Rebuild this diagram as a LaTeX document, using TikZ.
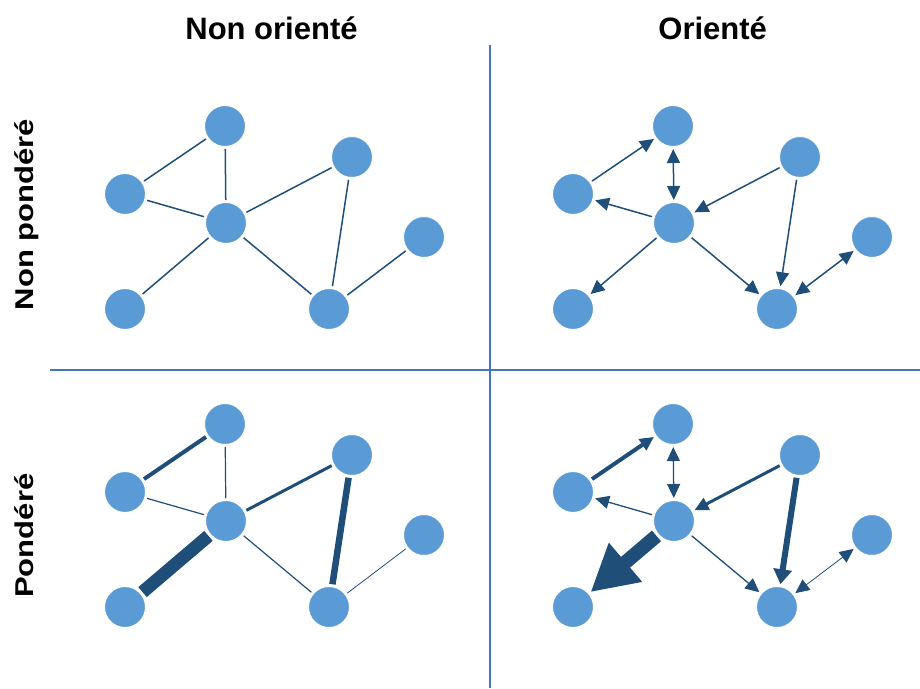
\documentclass[tikz,border=0pt]{standalone}
\usepackage{fontspec}
\setmainfont{Liberation Sans}
\usetikzlibrary{arrows.meta}
\definecolor{nodeblue}{HTML}{5B9BD5}
\definecolor{edgeblue}{HTML}{1F4E79}
\definecolor{gridblue}{HTML}{4472C4}
\begin{document}
\begin{tikzpicture}[x=1pt,y=-1pt,
  vtx/.style={circle, fill=nodeblue, draw=white, line width=1pt, minimum size=41pt, inner sep=0pt, outer sep=2.5pt},
  lnk/.style={draw=edgeblue, line width=#1},
  head/.style={font=\fontsize{31}{31}\selectfont\bfseries, inner sep=0pt},
  divider/.style={draw=gridblue, line width=1.3pt},
  tip/.style={-{Triangle[length=14pt,width=13pt]}},
  bitip/.style={{Triangle[length=14pt,width=13pt]}-{Triangle[length=14pt,width=13pt]}},
]
\useasboundingbox (0,0) rectangle (920,688);

% quadrant dividers
\coordinate (vtop) at (490,45);
\coordinate (vbot) at (490,688);
\coordinate (hleft) at (50,370);
\coordinate (hright) at (920,370);
\draw[divider] (vtop) -- (vbot);
\draw[divider] (hleft) -- (hright);

% column and row headings
\node[head, anchor=base] (col1) at (271.5,39.3) {Non orienté};
\node[head, anchor=base] (col2) at (712.7,39.3) {Orienté};
\node[head, anchor=base, rotate=90] (row1) at (33.3,214.5) {\scalebox{1}[0.83]{Non pondéré}};
\node[head, anchor=base, rotate=90] (row2) at (33.3,535.7) {\scalebox{1}[0.83]{Pondéré}};

% the same seven vertices in each quadrant
\foreach \q/\dx/\dy in {tl/0/0, tr/448/0, bl/0/298, br/448/298}{
  \begin{scope}[shift={(\dx,\dy)}]
    \node[vtx] (\q-a) at (225,126) {};
    \node[vtx] (\q-b) at (125,194) {};
    \node[vtx] (\q-c) at (226,223) {};
    \node[vtx] (\q-d) at (352,157) {};
    \node[vtx] (\q-e) at (424,237) {};
    \node[vtx] (\q-f) at (125,309) {};
    \node[vtx] (\q-g) at (329,309) {};
  \end{scope}
}

% undirected, unweighted
\foreach \u/\v in {a/b, a/c, b/c, c/d, c/f, c/g, d/g, g/e}
  \draw[lnk=1.5pt] (tl-\u) -- (tl-\v);

% undirected, weighted
\foreach \u/\v/\w in {a/b/4, a/c/1.2, b/c/1.2, c/d/3, c/f/13, c/g/1.2, d/g/6.5, g/e/0.8}
  \draw[lnk=\w pt] (bl-\u) -- (bl-\v);

% directed, unweighted
\draw[lnk=1.5pt, tip] (tr-b) -- (tr-a);
\draw[lnk=1.5pt, bitip] (tr-c) -- (tr-a);
\draw[lnk=1.5pt, tip] (tr-c) -- (tr-b);
\draw[lnk=1.5pt, tip] (tr-d) -- (tr-c);
\draw[lnk=1.5pt, tip] (tr-c) -- (tr-f);
\draw[lnk=1.5pt, tip] (tr-c) -- (tr-g);
\draw[lnk=1.5pt, tip] (tr-d) -- (tr-g);
\draw[lnk=1.5pt, bitip] (tr-e) -- (tr-g);

% directed, weighted
\draw[lnk=4pt, tip] (br-b) -- (br-a);
\draw[lnk=1.3pt, bitip] (br-c) -- (br-a);
\draw[lnk=1.3pt, tip] (br-c) -- (br-b);
\draw[lnk=3pt, tip] (br-d) -- (br-c);
\draw[lnk=14pt, -{Triangle[length=46pt,width=48pt]}] (br-c) -- (br-f);
\draw[lnk=1.3pt, tip] (br-c) -- (br-g);
\draw[lnk=6pt, -{Triangle[length=15pt,width=18pt]}] (br-d) -- (br-g);
\draw[lnk=0.8pt, bitip] (br-e) -- (br-g);
\end{tikzpicture}
\end{document}
